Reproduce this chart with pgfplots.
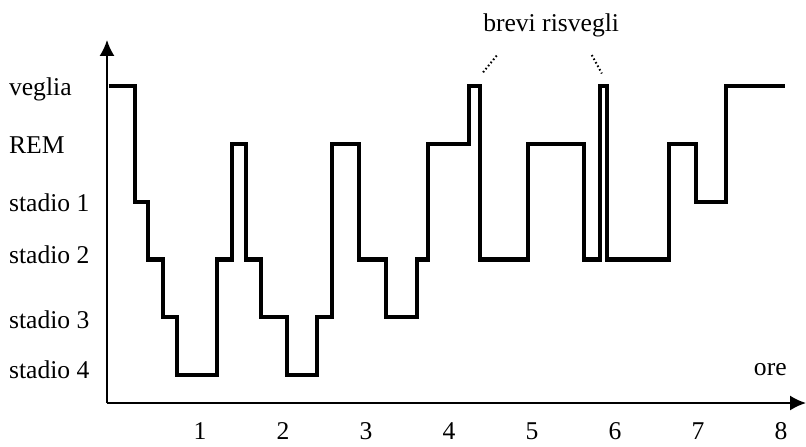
\documentclass[border=0pt]{standalone}
\usepackage{fontspec}
\setmainfont{Liberation Serif}
\usepackage{pgfplots}
\pgfplotsset{compat=1.18}
\usetikzlibrary{arrows.meta}

\newcommand{\lbl}{\fontsize{12.8}{15}\selectfont}

\begin{document}
\begin{tikzpicture}
% picture frame: 806x446 px at 0.5pt per px, axis origin at px (107,403)
\useasboundingbox (-53.5pt,-21.5pt) rectangle (349.5pt,201.5pt);
\begin{axis}[
  scale only axis,
  width=349.5pt, height=181.5pt,
  xmin=-0.12, xmax=8.30,
  ymin=-0.484, ymax=5.80,
  axis lines=left,
  axis line style={line width=0.9pt, -{Latex[length=8pt,width=7.5pt]}},
  major tick length=0pt,
  xtick={1,2,3,4,5,6,7,8},
  ytick={0.1,0.95,2.09,2.99,3.98,4.95},
  yticklabels={stadio 4, stadio 3, stadio 2, stadio 1, REM, veglia},
  /pgf/number format/assume math mode=true,
  tick label style={font=\lbl},
  yticklabel style={anchor=west, xshift=-52.5pt},
  xticklabel style={yshift=-6.3pt},
  clip=false,
]
\addplot[const plot, black, line width=2.1pt] coordinates {
  (-0.10,5) (0.217,3) (0.373,2) (0.554,1) (0.723,0) (1.205,2)
  (1.386,4) (1.554,2) (1.735,1) (2.048,0) (2.410,1) (2.590,4)
  (2.916,2) (3.241,1) (3.614,2) (3.747,4) (4.241,5) (4.373,2)
  (4.952,4) (5.627,2) (5.819,5) (5.904,2) (6.651,4) (6.976,3)
  (7.337,5) (8.048,5)
};
\draw[line width=1pt, dash pattern=on 0.8pt off 1.2pt] (axis cs:4.41,5.24) -- (axis cs:4.58,5.54);
\draw[line width=1pt, dash pattern=on 0.8pt off 1.2pt] (axis cs:5.72,5.54) -- (axis cs:5.84,5.22);
\node[font=\lbl] at (axis cs:5.23,6.06) {brevi risvegli};
\node[font=\lbl] at (axis cs:7.87,0.09) {ore};
\end{axis}
\end{tikzpicture}
\end{document}
